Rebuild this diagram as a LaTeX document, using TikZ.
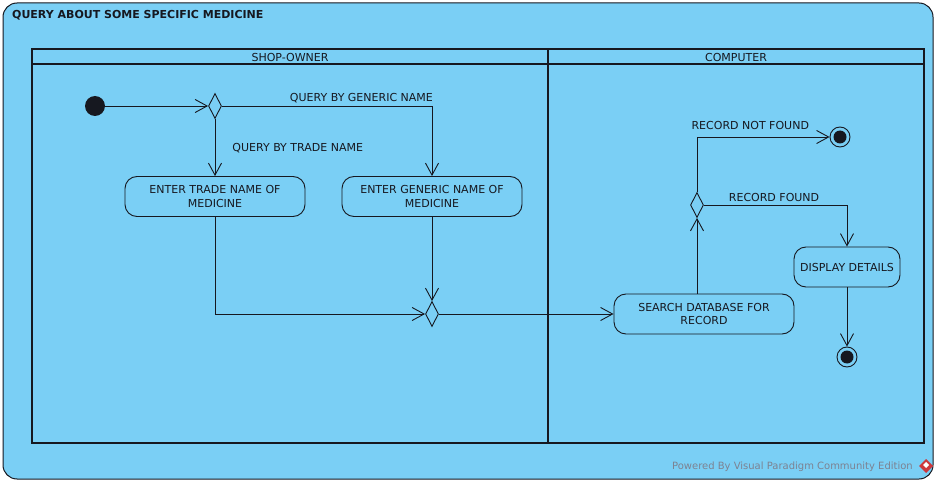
\documentclass[tikz,border=0pt]{standalone}
\usepackage{fontspec}
\setmainfont{DejaVu Sans}
\usetikzlibrary{arrows.meta,shapes.geometric,positioning}
\definecolor{vpblue}{RGB}{122,207,245}
\definecolor{vpline}{RGB}{22,24,32}
\definecolor{vpgray}{RGB}{125,130,145}
\definecolor{vpred}{RGB}{205,55,60}
\begin{document}
\begin{tikzpicture}[x=1pt,y=-1pt,
    every node/.style={font=\fontsize{11}{13.5}\selectfont, text=vpline},
    vpaction/.style={draw=vpline, fill=vpblue, rounded corners=12pt, minimum height=40pt, align=center, inner sep=2pt, line width=0.9pt},
    vpchoice/.style={draw=vpline, fill=vpblue, diamond, minimum width=13pt, minimum height=25pt, inner sep=0pt, line width=0.9pt},
    vpstart/.style={circle, fill=vpline, minimum size=20pt, inner sep=0pt},
    vpend/.style={circle, draw=vpline, minimum size=20pt, inner sep=0pt, line width=0.9pt,
        path picture={\fill[vpline] (path picture bounding box.center) circle (6.5pt);}},
    vpflow/.style={draw=vpline, line width=0.9pt, -{Straight Barb[length=12pt,width=13pt]}},
    vpguard/.style={inner sep=0pt, text depth=0pt},
    vplane/.style={draw=vpline, line width=1.8pt}]
                \useasboundingbox (0,0) rectangle (938,484);
                \draw[draw=vpline, fill=vpblue, rounded corners=14pt, line width=1pt] (3,3) rectangle (933,479);
                \node[anchor=base west, inner sep=0pt, font=\bfseries\fontsize{11}{13}\selectfont] (title) at (12,19) {QUERY ABOUT SOME SPECIFIC MEDICINE};
                % swimlanes
                \draw[vplane] (32,49) rectangle (924,443);
                \draw[vplane] (32,64) -- (924,64);
                \draw[vplane] (548,49) -- (548,443);
                \node (shop) at (290,57) {SHOP-OWNER};
                \node (comp) at (736,57) {COMPUTER};
                % activity nodes
                \node[vpstart] (init) at (95,106) {};
                \node[vpchoice] (qry) at (215,106) {};
                \node[vpaction, minimum width=180pt] (trade) at (215,196.5) {ENTER TRADE NAME OF\\MEDICINE};
                \node[vpaction, minimum width=180pt] (generic) at (432,196.5) {ENTER GENERIC NAME OF\\MEDICINE};
                \node[vpchoice] (merge) at (432,314) {};
                \node[vpaction, minimum width=180pt] (search) at (704,314) {SEARCH DATABASE FOR\\RECORD};
                \node[vpchoice] (found) at (697,205) {};
                \node[vpend] (endA) at (840,137) {};
                \node[vpaction, minimum width=106pt] (display) at (847,267) {DISPLAY DETAILS};
                \node[vpend] (endB) at (847,357) {};
                % flows
                \draw[vpflow] (init) -- (qry.west);
                \draw[vpflow] (qry.east) -| node[vpguard, pos=0.332, above=4pt] {QUERY BY GENERIC NAME} (generic.north);
                \draw[vpflow] (qry.south) -- node[vpguard, midway, right=17pt] {QUERY BY TRADE NAME} (trade.north);
                \draw[vpflow] (trade.south) |- (merge.west);
                \draw[vpflow] (generic.south) -- (merge.north);
                \draw[vpflow] (merge.east) -- (search.west);
                \draw[vpflow] (found.south |- search.north) -- (found.south);
                \draw[vpflow] (found.north) |- node[vpguard, pos=0.701, above=7pt] {RECORD NOT FOUND} (endA.west);
                \draw[vpflow] (found.east) -| node[vpguard, pos=0.245, above=3.5pt] {RECORD FOUND} (display.north);
                \draw[vpflow] (display.south) -- (endB.north);
                % footer
                \node[anchor=base east, inner sep=0pt, font=\fontsize{10}{12}\selectfont, text=vpgray] (credit) at (913,469) {Powered By Visual Paradigm Community Edition};
                \fill[vpred] (926,459) -- (933,466) -- (926,473) -- (919,466) -- cycle;
                \fill[white] (926,462) -- (929,465) -- (926,468) -- (923,465) -- cycle;
            \end{tikzpicture}
\end{document}
